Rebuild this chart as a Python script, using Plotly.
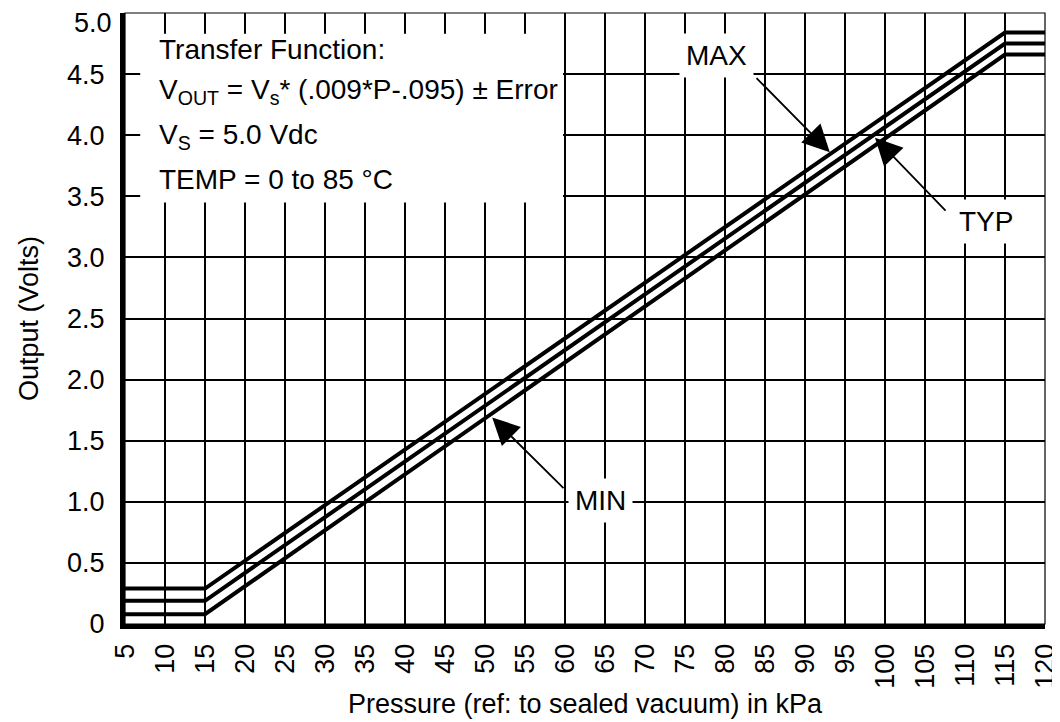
import plotly.graph_objects as go

# ---- data ----
pressure_kpa = [5, 15, 115, 120]
vout_max = [0.29, 0.29, 4.84, 4.84]
vout_typ = [0.19, 0.19, 4.75, 4.75]
vout_min = [0.08, 0.08, 4.66, 4.66]

x_ticks = list(range(5, 125, 5))
x_tick_labels = [str(v) for v in x_ticks]
y_ticks = [0, 0.5, 1.0, 1.5, 2.0, 2.5, 3.0, 3.5, 4.0, 4.5, 5.0]
y_tick_labels = ["0", "0.5", "1.0", "1.5", "2.0", "2.5", "3.0", "3.5", "4.0", "4.5", ""]
y_top_label = "5.0"

# callouts: label, label position, arrow tail, arrow head
callout_labels = ["MAX", "TYP", "MIN"]
callout_label_x = [78.9, 112.6, 64.4]
callout_label_y = [4.65, 3.29, 1.01]
callout_tail_x = [83.75, 107.75, 60.0]
callout_tail_y = [4.48, 3.37, 1.10]
callout_head_x = [93.1, 98.75, 50.9]
callout_head_y = [3.86, 3.98, 1.69]

info_lines = [
    "Transfer Function:",
    "V<sub>OUT</sub> = V<sub>s</sub>* (.009*P-.095) ± Error",
    "V<sub>S</sub> = 5.0 Vdc",
    "TEMP = 0 to 85 °C",
]
info_line_y = [4.70, 4.36, 3.99, 3.64]

FONT = "Liberation Sans, Arial, sans-serif"

fig = go.Figure()
for ys in (vout_max, vout_typ, vout_min):
    fig.add_trace(go.Scatter(x=pressure_kpa, y=ys, mode="lines",
                             line=dict(color="black", width=4),
                             showlegend=False, hoverinfo="skip"))

# white box behind the info text
fig.add_shape(type="rect", xref="x", yref="y", x0=6.9, x1=59.75, y0=3.45, y1=4.83,
              fillcolor="white", line=dict(width=0), layer="above")
# thin top/right frame
fig.add_shape(type="rect", xref="paper", yref="paper", x0=0, x1=1, y0=0, y1=1,
              line=dict(color="black", width=1.2), layer="above")

annotations = []
for txt, yy in zip(info_lines, info_line_y):
    annotations.append(dict(x=9.0, y=yy, xref="x", yref="y", text=txt, showarrow=False,
                            xanchor="left", yanchor="middle",
                            font=dict(family=FONT, size=28, color="black")))
for i in range(3):
    annotations.append(dict(x=callout_head_x[i], y=callout_head_y[i], xref="x", yref="y",
                            ax=callout_tail_x[i], ay=callout_tail_y[i], axref="x", ayref="y",
                            text="", showarrow=True, arrowhead=2, arrowsize=3.0,
                            arrowwidth=1.8, arrowcolor="black", standoff=0, startstandoff=0))
    annotations.append(dict(x=callout_label_x[i], y=callout_label_y[i], xref="x", yref="y",
                            text=callout_labels[i], showarrow=False, bgcolor="white",
                            borderpad=6, xanchor="center", yanchor="middle",
                            font=dict(family=FONT, size=28, color="black")))
annotations.append(dict(x=0, y=5.0, xref="paper", yref="y", text=y_top_label, showarrow=False,
                        xanchor="right", yanchor="top", xshift=-11, yshift=7,
                        font=dict(family=FONT, size=27, color="black")))

# page has an ~8px body margin: shift figure so the plot area lands at 125..1045 x 13..624
fig.update_layout(
    width=1052, height=714,
    margin=dict(l=117, r=15, t=5, b=98),
    paper_bgcolor="white", plot_bgcolor="white",
    font=dict(family=FONT, size=27, color="black"),
    annotations=annotations,
    xaxis=dict(range=[5, 120], tickvals=x_ticks, ticktext=x_tick_labels, tickangle=-90,
               showgrid=True, gridcolor="black", gridwidth=1.5, zeroline=False,
               showline=True, linecolor="black", linewidth=5, ticks="",
               ticklabelstandoff=4, automargin=False,
               tickfont=dict(family=FONT, size=27, color="black"),
               title=dict(text="Pressure (ref: to sealed vacuum) in kPa",
                          font=dict(family=FONT, size=27, color="black"), standoff=8)),
    yaxis=dict(range=[0, 5], tickvals=y_ticks, ticktext=y_tick_labels,
               showgrid=True, gridcolor="black", gridwidth=1.5, zeroline=False,
               showline=True, linecolor="black", linewidth=5, ticks="",
               ticklabelstandoff=10, automargin=False,
               tickfont=dict(family=FONT, size=27, color="black"),
               title=dict(text="Output (Volts)",
                          font=dict(family=FONT, size=27, color="black"), standoff=22)),
)

fig.write_html("out.html")
